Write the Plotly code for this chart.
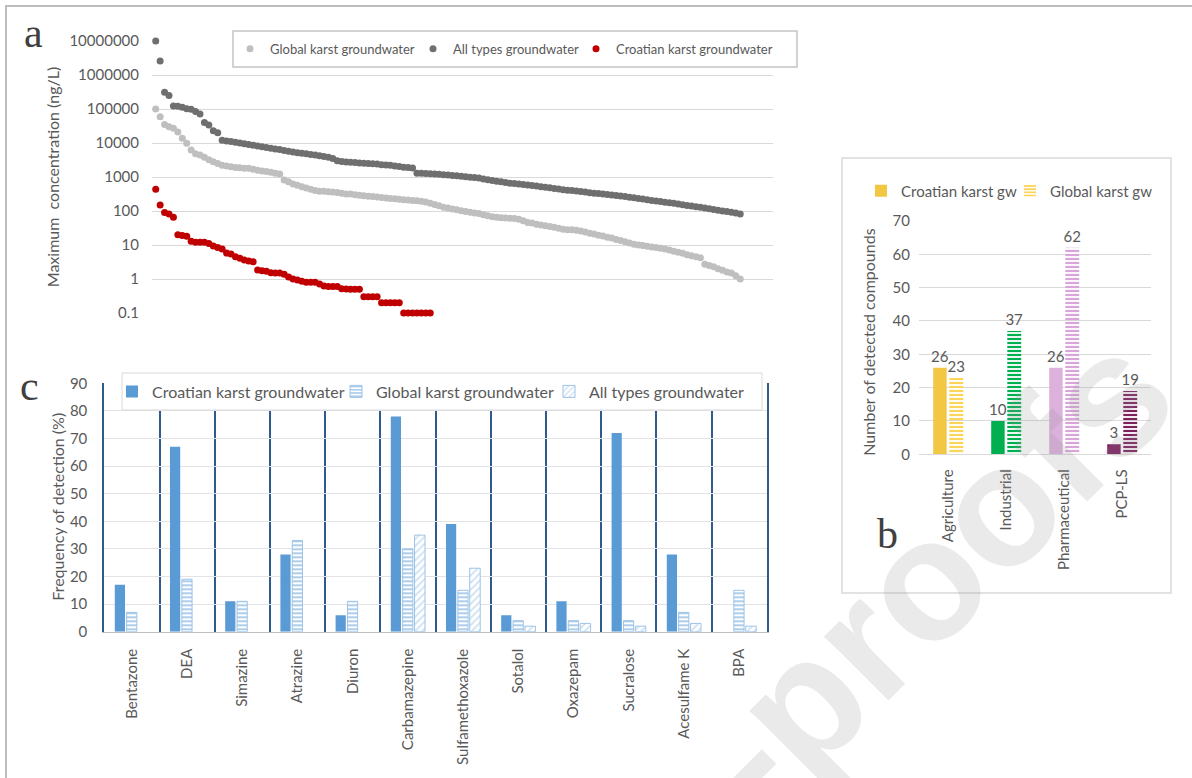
import plotly.graph_objects as go

W, H = 1192, 778

# ---------------- Panel a: maximum concentrations (ng/L), ranked ----------------
global_karst_max = [
    100000, 59000, 35000, 30000, 27000, 21000, 13700, 9800, 6200, 4800, 4400, 3800, 3200, 2800, 2500, 2200,
    2100, 2000, 1900, 1860, 1820, 1800, 1700, 1590, 1510, 1440, 1380, 1290, 1230,
    810, 730, 620, 570, 520, 475, 435, 400, 380, 380, 370, 360, 350, 330, 315, 315,
    300, 290, 280, 270, 265, 260, 250, 240, 235, 228,
    220, 215, 210, 205, 200, 195, 185, 170, 155, 142,
    130, 122, 115, 108, 102, 96, 92, 88, 84, 78,
    72, 68, 65, 63, 62, 61, 60, 57, 52, 46,
    44, 41, 39, 37, 35, 33, 31, 29, 28, 28,
    27, 26, 24, 22, 21, 19.5, 18.5, 17, 16, 14.5,
    13.5, 12.5, 11.5, 10.5, 10, 9.6, 9.2, 8.8, 8.4, 8.0,
    7.6, 7.1, 6.6, 6.1, 5.7, 5.2, 4.8, 4.5, 4.2, 2.7,
    2.5, 2.3, 2.0, 1.8, 1.6, 1.5, 1.25, 1.0,
]
all_types_max = [
    10000000, 2600000, 310000, 250000, 123000, 120000, 112000, 102000, 98000, 85000, 71000, 40000, 34000, 23000, 20000,
    12000, 11500, 11000, 10500, 10000, 9500, 9000, 8600, 8200, 7800,
    7400, 7000, 6700, 6400, 6000, 5700, 5400, 5200, 5000, 4800,
    4600, 4400, 4200, 4000, 3800, 3500, 3000, 2850, 2750, 2700,
    2650, 2600, 2550, 2500, 2450, 2400, 2300, 2250, 2200, 2100,
    2050, 1950, 1900, 1850, 1300, 1280, 1260, 1240, 1220, 1200,
    1170, 1140, 1110, 1080, 1050, 1020, 990, 960, 930, 880,
    830, 790, 750, 720, 690, 660, 640, 620, 600, 580,
    560, 540, 520, 500, 480, 460, 440, 425, 410, 400,
    390, 375, 360, 345, 335, 325, 315, 305, 295, 285,
    275, 265, 255, 245, 235, 225, 215, 205, 198, 190,
    182, 175, 168, 160, 153, 146, 140, 134, 128, 122,
    116, 110, 105, 100, 96, 92, 87, 82,
]
croatian_karst_max = [
    436, 150, 91, 81, 66, 20, 19, 18, 13, 12, 12, 12, 11, 9.3, 8.5, 7.6,
    5.8, 5.4, 4.5, 4.1, 3.6, 3.4, 3.2,
    1.84, 1.75, 1.68, 1.53, 1.5, 1.5, 1.37, 1.15, 1.0, 0.93, 0.86, 0.8, 0.8, 0.8,
    0.71, 0.62, 0.6, 0.6, 0.6, 0.52, 0.51, 0.5, 0.5, 0.5,
    0.3, 0.3, 0.3, 0.3, 0.2, 0.2, 0.2, 0.2, 0.2,
    0.1, 0.1, 0.1, 0.1, 0.1, 0.1, 0.1,
]
conc_ticks = [0.1, 1, 10, 100, 1000, 10000, 100000, 1000000, 10000000]
conc_tick_labels = ["0.1", "1", "10", "100", "1000", "10000", "100000", "1000000", "10000000"]

# ---------------- Panel b: number of detected compounds per source ----------------
sources = ["Agriculture", "Industrial", "Pharmaceutical", "PCP-LS"]
croatian_counts = [26, 10, 26, 3]
global_counts = [23, 37, 62, 19]
source_solid = ["#f2c744", "#00b050", "#dcb1dc", "#7e1f5e"]
source_stripe = ["#fdd45a", "#00b050", "#d9a5d9", "#7e1f5e"]

# ---------------- Panel c: frequency of detection (%) ----------------
compounds = ["Bentazone", "DEA", "Simazine", "Atrazine", "Diuron", "Carbamazepine",
             "Sulfamethoxazole", "Sotalol", "Oxazepam", "Sucralose", "Acesulfame K", "BPA"]
freq_croatian = [17, 67, 11, 28, 6, 78, 39, 6, 11, 72, 28, None]
freq_global = [7, 19, 11, 33, 11, 30, 15, 4, 4, 4, 7, 15]
freq_all_types = [None, None, None, None, None, 35, 23, 2, 3, 2, 3, 2]

FONT = "Lato"
TXT = "#595959"
GRID = "#d9d9d9"
BLUE = "#5b9bd5"
LIGHT_BLUE = "#9dc3e6"
NAVY = "#2f5b8c"


def fx(x):
    return x / W


def fy(y):
    return 1 - y / H


fig = go.Figure()

# --- panel a scatter series ---
for name, vals, col, lw in [
    ("Global karst groundwater", global_karst_max, "#bfbfbf", 138),
    ("All types groundwater", all_types_max, "#6f6f6f", 118),
    ("Croatian karst groundwater", croatian_karst_max, "#c00000", 175),
]:
    fig.add_trace(go.Scatter(
        x=list(range(len(vals))), y=vals, mode="markers", name=name,
        marker=dict(color=col, size=7, line=dict(width=0)), cliponaxis=False,
        xaxis="x", yaxis="y", legend="legend", legendwidth=lw,
    ))

# --- panel b bars ---
fig.add_trace(go.Bar(
    x=sources, y=croatian_counts, name="Croatian karst gw",
    marker=dict(color=source_solid, line=dict(width=0)),
    width=0.232, offset=-0.255,
    text=[str(v) for v in croatian_counts], textposition="outside",
    textfont=dict(family=FONT, size=15, color=TXT), cliponaxis=False, constraintext="none",
    xaxis="x2", yaxis="y2", legend="legend2", legendwidth=104,
))
fig.add_trace(go.Bar(
    x=sources, y=global_counts, name="Global karst gw",
    marker=dict(color=source_stripe, line=dict(width=0),
                pattern=dict(shape="-", fgcolor=source_stripe, bgcolor="white",
                             size=4, solidity=0.55, fillmode="replace")),
    width=0.24, offset=0.022,
    text=[str(v) for v in global_counts], textposition="outside",
    textfont=dict(family=FONT, size=15, color=TXT), cliponaxis=False, constraintext="none",
    xaxis="x2", yaxis="y2", legend="legend2", legendwidth=110,
))

# --- panel c bars ---
fig.add_trace(go.Bar(
    x=compounds, y=freq_croatian, name="Croatian karst groundwater",
    marker=dict(color=BLUE, line=dict(width=0)),
    width=0.185, offset=-0.31,
    xaxis="x3", yaxis="y3", legend="legend3", legendwidth=179,
))
fig.add_trace(go.Bar(
    x=compounds, y=freq_global, name="Global karst groundwater",
    marker=dict(color=BLUE, line=dict(color=LIGHT_BLUE, width=1),
                pattern=dict(shape="-", fgcolor=BLUE, bgcolor="white", size=4, solidity=0.5)),
    width=0.185, offset=-0.095,
    xaxis="x3", yaxis="y3", legend="legend3", legendwidth=168,
))
fig.add_trace(go.Bar(
    x=compounds, y=freq_all_types, name="All types groundwater",
    marker=dict(color=LIGHT_BLUE, line=dict(color=LIGHT_BLUE, width=1),
                pattern=dict(shape="/", fgcolor=LIGHT_BLUE, bgcolor="white", size=5, solidity=0.35)),
    width=0.19, offset=0.12,
    xaxis="x3", yaxis="y3", legend="legend3", legendwidth=165,
))

tickfont = dict(family=FONT, size=15, color=TXT)

fig.update_layout(
    width=W, height=H,
    margin=dict(l=0, r=0, t=0, b=0, autoexpand=False),
    paper_bgcolor="white", plot_bgcolor="white",
    font=dict(family=FONT, color=TXT),
    barmode="overlay",
    # panel a
    xaxis=dict(domain=[fx(152), fx(773)], range=[-0.84, 139.4], visible=False, automargin=False),
    yaxis=dict(domain=[fy(313), fy(41)], type="log", range=[-1, 7],
               tickvals=conc_ticks, ticktext=conc_tick_labels, tickfont=tickfont,
               showgrid=True, gridcolor=GRID, gridwidth=1, zeroline=False, showline=False,
               ticks="", ticklabelstandoff=12, automargin=False),
    # panel b
    xaxis2=dict(domain=[fx(919), fx(1151)], anchor="y2", type="category",
                range=[-0.5, 3.5], tickangle=-90, tickfont=tickfont,
                showline=True, linecolor=GRID, linewidth=1, showgrid=False, ticks="",
                ticklabelstandoff=8, automargin=False),
    yaxis2=dict(domain=[fy(454.3), fy(221)], anchor="x2", range=[0, 70], dtick=10,
                tickfont=tickfont, showgrid=True, gridcolor=GRID, zeroline=False,
                showline=False, ticks="", ticklabelstandoff=8, automargin=False),
    # panel c
    xaxis3=dict(domain=[fx(104.3), fx(766.7)], anchor="y3", type="category",
                range=[-0.5, 11.5], tickangle=-90, tickfont=tickfont, tickson="boundaries",
                showgrid=True, gridcolor=NAVY, gridwidth=2,
                showline=True, linecolor="#bfbfbf", linewidth=1, ticks="",
                ticklabelstandoff=10, automargin=False),
    yaxis3=dict(domain=[fy(631.7), fy(383.3)], anchor="x3", range=[0, 90], dtick=10,
                tickfont=tickfont, showgrid=True, gridcolor="#e3e3e3", zeroline=False,
                showline=True, linecolor=NAVY, linewidth=2, mirror=True, ticks="",
                ticklabelstandoff=12, automargin=False),
    legend=dict(orientation="h", x=fx(230), xanchor="left", y=fy(48.7), yanchor="middle",
                font=dict(family=FONT, size=13, color=TXT), bgcolor="rgba(0,0,0,0)",
                borderwidth=0),
    legend2=dict(orientation="h", x=fx(861), xanchor="left", y=fy(191), yanchor="middle",
                 font=dict(family=FONT, size=15, color=TXT), bgcolor="rgba(0,0,0,0)",
                 borderwidth=0),
    legend3=dict(orientation="h", x=fx(112), xanchor="left", y=fy(391.5), yanchor="middle",
                 font=dict(family=FONT, size=16, color=TXT), bgcolor="rgba(0,0,0,0)",
                 borderwidth=0),
)

# frames and legend boxes
fig.add_shape(type="rect", xref="paper", yref="paper", x0=fx(6), x1=fx(1210), y0=fy(6), y1=fy(800),
              line=dict(color="#bdbdbd", width=2), fillcolor="rgba(0,0,0,0)", layer="below")
fig.add_shape(type="rect", xref="paper", yref="paper", x0=fx(233), x1=fx(797), y0=fy(31), y1=fy(67),
              line=dict(color="#c4c4c4", width=1.5), fillcolor="rgba(0,0,0,0)")
fig.add_shape(type="rect", xref="paper", yref="paper", x0=fx(842), x1=fx(1171), y0=fy(158), y1=fy(593),
              line=dict(color=GRID, width=1.5), fillcolor="rgba(0,0,0,0)", layer="below")
fig.add_shape(type="rect", xref="paper", yref="paper", x0=fx(122), x1=fx(762), y0=fy(373), y1=fy(410),
              line=dict(color=GRID, width=1), fillcolor="white", layer="above")

# axis titles
for text, x, y in [
    ("Maximum  concentration (ng/L)", 52.7, 177.5),
    ("Frequency of detection (%)", 56.7, 507),
    ("Number of detected compounds", 867.7, 342),
]:
    fig.add_annotation(text=text, x=fx(x), y=fy(y), xref="paper", yref="paper",
                       showarrow=False, textangle=-90, xanchor="center", yanchor="middle",
                       font=dict(family=FONT, size=16, color=TXT))

# panel letters
for text, x, y in [("a", 33, 33), ("c", 29, 386), ("b", 887, 534)]:
    fig.add_annotation(text=text, x=fx(x), y=fy(y), xref="paper", yref="paper",
                       showarrow=False, xanchor="center", yanchor="middle",
                       font=dict(family="Liberation Serif", size=42, color="#404040"))

# proof watermark
fig.add_annotation(text="-proofs", x=fx(932), y=fy(572), xref="paper", yref="paper",
                   showarrow=False, textangle=-45, xanchor="center", yanchor="middle",
                   font=dict(family="Liberation Sans", size=172, color="rgba(150,150,150,0.2)",
                             weight="bold"))

fig.write_html("out.html")
